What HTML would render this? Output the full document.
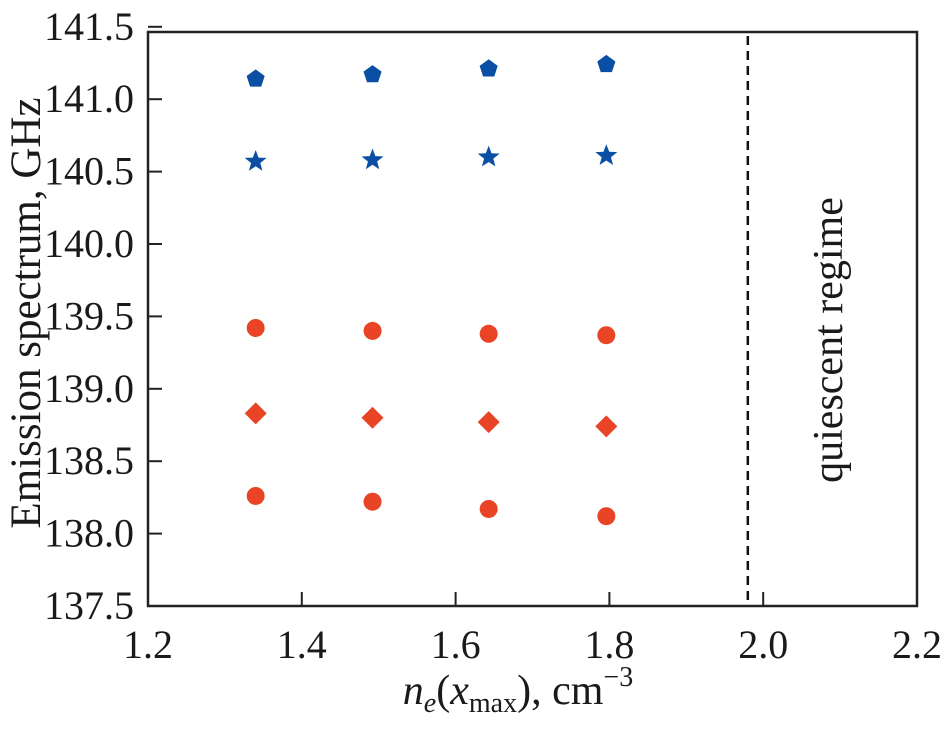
<!DOCTYPE html>
<html><head><meta charset="utf-8"><style>
body{margin:0;background:#fff}
svg text{font-family:"Liberation Serif",serif;fill:#1a1a1a}
</style></head><body>
<svg width="950" height="727" viewBox="0 0 950 727">
<g id="plot"></g>
</svg>
<script>
const xs=[1.34,1.492,1.643,1.796];
const pent=[141.14,141.17,141.21,141.24];
const stars=[140.57,140.58,140.60,140.61];
const circ1=[139.42,139.40,139.38,139.37];
const diam=[138.83,138.80,138.77,138.74];
const circ2=[138.26,138.22,138.17,138.12];
const xTicks=[1.2,1.4,1.6,1.8,2.0,2.2];
const xTickLabels=["1.2","1.4","1.6","1.8","2.0","2.2"];
const yTicks=[137.5,138,138.5,139,139.5,140,140.5,141,141.5];
const yTickLabels=["137.5","138.0","138.5","139.0","139.5","140.0","140.5","141.0","141.5"];
const boundary=1.98;
const X=v=>148+(v-1.2)*769;
const Y=v=>606-(v-137.5)*144.8;
const ns="http://www.w3.org/2000/svg";
const g=document.getElementById('plot');
function mk(t,a,txt){const e=document.createElementNS(ns,t);for(const k in a)e.setAttribute(k,a[k]);if(txt!==undefined)e.textContent=txt;g.appendChild(e);return e;}
let e=mk('rect',{x:148,y:32,width:769,height:574,fill:'none',stroke:'#222','stroke-width':2.5});


xTicks.forEach((v,i)=>{
 let t=mk('line',{x1:X(v),x2:X(v),y1:606,y2:592,stroke:'#222','stroke-width':2});
 
 
 let l=mk('text',{x:X(v),y:658,'font-size':40,'text-anchor':'middle'},xTickLabels[i]);
 
 
});
yTicks.forEach((v,i)=>{
 let t=mk('line',{x1:148,x2:162,y1:Y(v),y2:Y(v),stroke:'#222','stroke-width':2});
 
 
 let l=mk('text',{x:134,y:Y(v)+13,'font-size':40,'text-anchor':'end'},yTickLabels[i]);
 
 
});
e=mk('line',{x1:X(boundary),x2:X(boundary),y1:36,y2:606,stroke:'#111','stroke-width':2.5,'stroke-dasharray':'9,6'});


e=mk('text',{transform:'translate(842,340) rotate(-90)','font-size':42,'text-anchor':'middle'},'quiescent regime');


e=mk('text',{transform:'translate(40,313) rotate(-90)','font-size':43,'text-anchor':'middle'},'Emission spectrum, GHz');


e=mk('text',{x:518,y:704,'font-size':42,'text-anchor':'middle'});
e.innerHTML='<tspan font-style="italic">n</tspan><tspan font-style="italic" font-size="28" dy="8">e</tspan><tspan dy="-8">(</tspan><tspan font-style="italic">x</tspan><tspan font-size="28" dy="8">max</tspan><tspan dy="-8">), cm</tspan><tspan font-size="28" dy="-18">−3</tspan>';


const blue='#0a4fa3',red='#ea4427';
function poly(cx,cy,r,n,inner,rot){let p=[];const m=inner?2*n:n;for(let k=0;k<m;k++){const rr=inner&&k%2?r*inner:r;const a=rot+k*Math.PI*2/m;p.push((cx+rr*Math.sin(a)).toFixed(1)+','+(cy-rr*Math.cos(a)).toFixed(1));}return p.join(' ');}
xs.forEach((x,i)=>{
 let m=mk('polygon',{points:poly(X(x),Y(pent[i]),9.5,5,0,0),fill:blue});
 
 
 m=mk('polygon',{points:poly(X(x),Y(stars[i]),11.5,5,0.42,0),fill:blue});
 
 
 m=mk('circle',{cx:X(x),cy:Y(circ1[i]),r:9,fill:red});
 
 
 m=mk('polygon',{points:poly(X(x),Y(diam[i]),11,4,0,0),fill:red});
 
 
 m=mk('circle',{cx:X(x),cy:Y(circ2[i]),r:9,fill:red});
 
 
});
</script>
</body></html>
